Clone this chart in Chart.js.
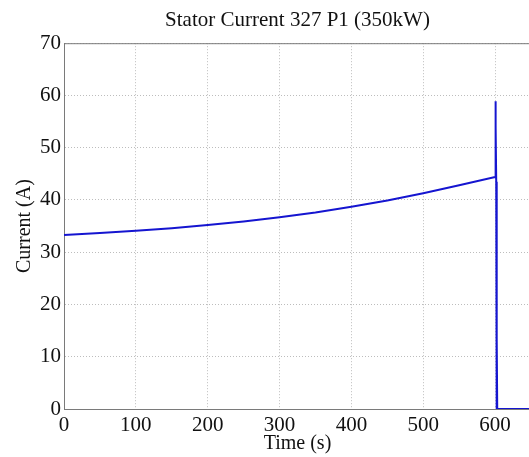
<!DOCTYPE html>
<html>
<head>
<meta charset="utf-8">
<title>Stator Current</title>
<style>
  html, body { margin: 0; padding: 0; background: #fff; overflow: hidden; }
  #wrap { width: 531px; height: 457px; }
</style>
<script src="https://cdn.jsdelivr.net/npm/chart.js"></script>
</head>
<body>
<div id="wrap"><canvas id="currentChart" width="531" height="457"></canvas></div>
<script>
// time (s) and stator current (A)
const timeS    = [0, 50, 100, 150, 200, 250, 300, 350, 400, 450, 500, 550, 600,
                  600.3, 600.8, 601.2, 601.6, 601.9, 602.3, 602.6, 603, 650];
const currentA = [33.3, 33.7, 34.1, 34.6, 35.2, 35.9, 36.7, 37.6, 38.7, 39.9, 41.3, 42.8, 44.4,
                  58.9, 47, 54, 43.5, 43, 0, 13.5, 0, 0];
const xTicks = [0, 100, 200, 300, 400, 500, 600];
const yTicks = [0, 10, 20, 30, 40, 50, 60, 70];

const serif = 'Liberation Serif';
const axisGrey = '#7a7a7a';
const gridGrey = '#bdbdbd';

// closes the box along the top edge, like the matlab axes
const topBorder = {
  id: 'topBorder',
  afterDraw(chart) {
    const a = chart.chartArea, ctx = chart.ctx;
    ctx.save();
    ctx.strokeStyle = axisGrey;
    ctx.lineWidth = 1;
    ctx.beginPath();
    ctx.moveTo(a.left, a.top + 0.5);
    ctx.lineTo(a.right, a.top + 0.5);
    ctx.stroke();
    ctx.restore();
  }
};

new Chart(document.getElementById('currentChart'), {
  type: 'line',
  data: {
    datasets: [{
      data: timeS.map((t, i) => ({x: t, y: currentA[i]})),
      borderColor: '#1515d0',
      borderWidth: 2,
      pointRadius: 0,
      tension: 0
    }]
  },
  options: {
    responsive: false,
    animation: false,
    layout: { padding: 0 },
    plugins: {
      legend: { display: false },
      tooltip: { enabled: false },
      title: {
        display: true,
        fullSize: false,
        text: 'Stator Current 327 P1 (350kW)',
        color: '#111',
        font: { family: serif, size: 21, weight: 'normal', lineHeight: 1.2 },
        padding: { top: 8, bottom: 10 }
      }
    },
    scales: {
      x: {
        type: 'linear',
        min: 0,
        max: 650,
        afterBuildTicks: s => { s.ticks = xTicks.map(v => ({value: v})); },
        afterFit: s => { s.height = 48; },
        ticks: { color: '#111', padding: 4, font: { family: serif, size: 21 } },
        grid: { color: gridGrey, drawTicks: false },
        border: { color: axisGrey, width: 1, dash: [1, 2] },
        title: {
          display: true, text: 'Time (s)', color: '#111',
          font: { family: serif, size: 20 }, padding: { top: 0, bottom: 1 }
        }
      },
      y: {
        min: 0,
        max: 70,
        afterBuildTicks: s => { s.ticks = yTicks.map(v => ({value: v})); },
        afterFit: s => { s.width = 64; },
        ticks: { color: '#111', padding: 3, font: { family: serif, size: 21 } },
        grid: { color: gridGrey, drawTicks: false },
        border: { color: axisGrey, width: 1, dash: [1, 2] },
        title: {
          display: true, text: 'Current (A)', color: '#111',
          font: { family: serif, size: 20 }, padding: { top: 13, bottom: 0 }
        }
      }
    }
  },
  plugins: [topBorder]
});
</script>
</body>
</html>
